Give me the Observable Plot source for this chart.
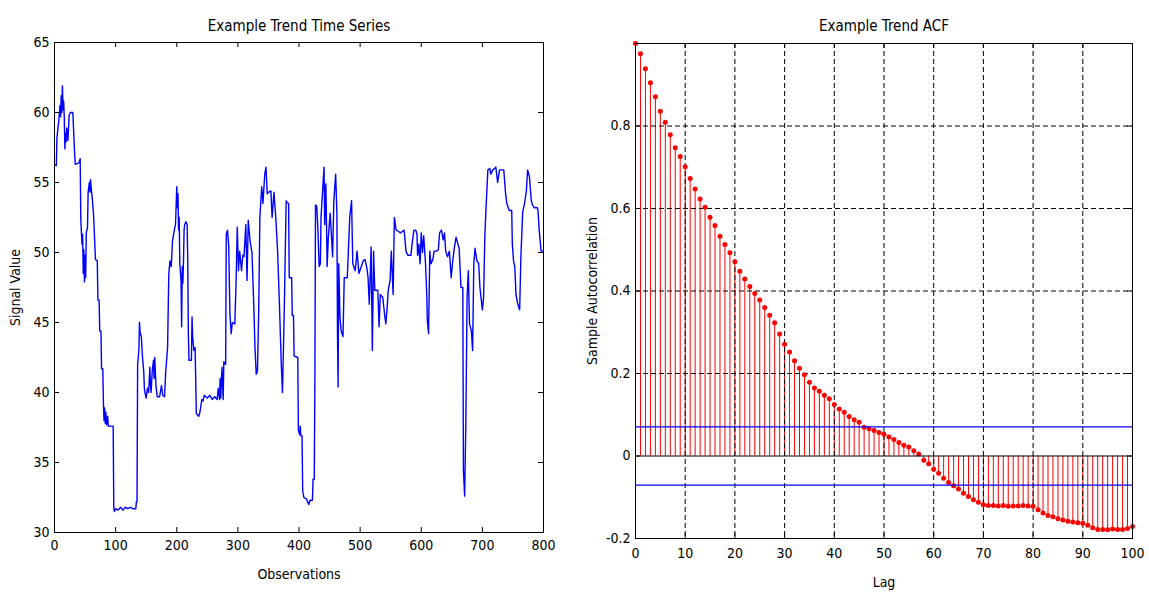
<!DOCTYPE html>
<html><head><meta charset="utf-8">
<script src="https://cdn.jsdelivr.net/npm/d3@7"></script>
<script src="https://cdn.jsdelivr.net/npm/@observablehq/plot@0.6"></script>
<style>
html,body{margin:0;padding:0;background:#fff;}
#wrap{position:relative;width:1149px;height:592px;overflow:hidden;background:#fff;}
#left,#right{position:absolute;top:0;}
#left{left:0;} #right{left:575px;}
svg{font-family:"Liberation Sans Narrow","DejaVu Sans Condensed","Liberation Sans",Arial,sans-serif;}
</style></head><body>
<div id="wrap"><div id="left"></div><div id="right"></div></div>
<script>
const tsObs = [0,3,4,7,9,10,11,12,13,14,15,16,17,18,19,20,22,24,26,30,31,33,34,40,42,43,45,46,47,48,49,50,51,52,54,55,57,58,59,60,62,64,67,70,71,73,74,76,77,79,80,81,82,83,84,85,87,88,96,97,98,100,104,108,112,116,120,124,128,133,134,135,136,138,139,140,142,144,146,147,148,150,152,154,156,157,158,160,162,163,164,166,168,172,175,177,180,182,185,187,189,191,193,196,198,200,201,202,203,204,205,207,208,209,210,211,212,213,215,217,218,219,220,224,225,226,228,230,231,232,236,238,241,243,245,250,254,258,262,266,268,270,271,272,274,276,277,280,281,283,285,287,289,291,295,297,299,301,303,306,308,310,313,315,317,320,323,326,328,330,332,334,336,339,341,344,346,348,350,354,356,359,362,365,368,371,373,376,379,380,383,384,388,389,391,392,398,399,401,402,403,405,406,408,412,414,416,418,422,423,425,426,427,429,431,433,435,436,439,441,442,444,446,448,451,455,457,460,462,463,464,465,467,469,472,474,479,483,486,488,492,495,498,502,505,508,511,513,515,518,520,522,524,529,531,533,537,540,542,544,546,549,551,554,556,559,563,566,569,572,575,578,583,585,588,591,593,594,596,598,600,602,604,607,609,610,612,614,616,619,621,625,628,630,633,636,638,640,643,646,649,651,654,657,660,662,665,668,669,671,673,675,677,679,682,684,686,688,691,694,696,700,702,704,706,709,712,714,717,720,722,725,728,731,735,738,740,744,748,749,751,753,755,758,761,763,766,769,772,774,777,780,782,785,790,791,793,796,800];
const tsValue = [56.3,56.2,58.2,59.4,60.5,59.7,61.2,60.0,61.9,60.2,60.8,59.6,57.4,58.5,57.9,58.9,58.0,59.8,60.0,60.0,59.0,57.0,56.3,56.4,56.7,52.4,50.6,51.3,48.5,50.2,47.9,49.8,48.2,51.4,51.8,54.3,55.0,54.3,55.2,54.6,53.8,52.6,49.5,49.4,46.6,46.6,44.4,44.4,41.7,41.7,39.3,38.0,38.9,37.8,38.6,37.7,38.3,37.6,37.6,31.8,31.5,31.7,31.6,31.8,31.6,31.8,31.7,31.8,31.7,31.7,32.2,32.2,42.0,43.0,45.0,44.3,44.0,42.5,41.5,40.3,40.0,39.6,40.3,40.0,41.8,40.5,40.0,41.6,42.3,41.0,42.5,40.5,39.7,39.7,40.5,39.8,39.7,41.5,43.2,48.5,49.4,49.0,50.8,51.6,52.0,54.7,53.2,54.2,51.6,52.5,49.2,48.0,44.7,49.0,47.8,49.3,51.6,52.0,52.2,52.0,49.4,44.2,42.3,42.3,45.4,44.0,43.0,43.2,41.0,38.5,38.3,38.6,39.5,39.4,39.8,39.6,39.8,39.5,39.7,39.5,40.3,39.5,41.0,39.6,41.8,39.5,42.2,42.0,51.3,51.6,50.5,45.6,44.2,45.0,44.9,47.8,51.8,48.7,50.1,48.7,49.8,49.7,52.0,48.0,52.3,50.8,50.0,46.3,43.2,41.3,41.5,45.6,52.5,54.7,53.5,55.6,56.1,54.2,54.3,54.4,52.5,54.3,52.5,50.1,46.3,42.0,40.0,46.1,53.7,53.6,53.5,48.2,48.2,45.5,45.5,42.6,42.5,37.3,37.0,37.6,36.9,36.9,33.0,32.5,32.4,32.2,32.0,32.3,32.3,33.8,33.8,40.9,53.4,53.3,51.6,49.0,49.2,52.5,54.7,56.1,52.0,54.9,49.0,51.1,52.8,49.7,53.7,55.6,52.8,44.0,40.4,49.2,45.4,44.4,44.0,48.2,48.2,52.5,53.7,49.2,48.7,50.1,48.5,49.0,49.4,49.5,48.9,48.2,46.3,50.4,43.0,50.1,47.3,47.3,44.7,47.0,46.8,45.6,44.9,45.9,47.3,48.0,50.1,47.0,52.5,51.6,51.5,51.4,51.5,51.6,50.1,49.8,49.8,50.6,51.6,51.6,51.3,49.8,50.6,49.2,51.4,50.0,51.2,49.2,47.0,45.1,44.2,50.1,49.2,49.5,50.1,50.1,50.2,51.4,51.6,50.9,51.4,50.1,49.7,50.1,48.2,49.2,50.3,51.1,50.6,50.3,47.5,47.5,34.4,32.6,38.0,46.8,48.7,44.9,44.4,43.0,49.2,50.3,49.4,49.2,47.5,45.9,46.8,51.1,53.2,55.9,56.0,55.6,55.9,56.0,56.1,55.0,55.9,55.9,55.9,54.2,53.5,53.0,53.0,50.6,49.4,49.0,47.0,46.3,45.9,49.7,52.9,53.5,54.4,55.9,55.4,53.7,53.4,53.2,53.2,53.0,51.6,50.1,50.1];
const tsXTicks = [0,100,200,300,400,500,600,700,800];
const tsYTicks = [30,35,40,45,50,55,60,65];

// ---- Sample autocorrelation, lags 0..100 ----
const acfValues = [1.0,0.975,0.939,0.905,0.871,0.836,0.809,0.779,0.747,0.726,
 0.701,0.673,0.647,0.623,0.603,0.579,0.559,0.533,0.513,0.493,
 0.471,0.448,0.429,0.411,0.394,0.378,0.360,0.341,0.323,0.296,
 0.271,0.252,0.231,0.213,0.197,0.179,0.165,0.157,0.147,0.139,
 0.125,0.114,0.106,0.096,0.088,0.082,0.070,0.066,0.062,0.057,
 0.053,0.046,0.040,0.033,0.026,0.022,0.013,0.005,-0.010,-0.019,
 -0.032,-0.042,-0.054,-0.064,-0.072,-0.080,-0.090,-0.098,-0.106,-0.112,
 -0.118,-0.120,-0.120,-0.121,-0.120,-0.122,-0.121,-0.121,-0.120,-0.121,
 -0.122,-0.130,-0.138,-0.144,-0.147,-0.152,-0.155,-0.158,-0.160,-0.162,
 -0.163,-0.168,-0.174,-0.178,-0.178,-0.179,-0.177,-0.178,-0.178,-0.176,
 -0.171];
const acfBound = 0.0707;
const acfXTicks = [0,10,20,30,40,50,60,70,80,90,100];
const acfYTicks = [-0.2,0,0.2,0.4,0.6,0.8];
const acfGridX = [10,20,30,40,50,60,70,80,90];
const acfGridY = [0.2,0.4,0.6,0.8];

const FONT = '"Liberation Sans Narrow","DejaVu Sans Condensed","Liberation Sans",Arial,sans-serif';
const H = 592;

// ---------- Left panel ----------
const W1 = 575, ml1 = 54, mr1 = 32, mt1 = 42, mb1 = 60;
const iw1 = W1 - ml1 - mr1, ih1 = H - mt1 - mb1;
const tsData = tsObs.map((o, i) => ({obs: o, value: tsValue[i]}));
const leftChart = Plot.plot({
  width: W1, height: H,
  marginLeft: ml1, marginRight: mr1, marginTop: mt1, marginBottom: mb1,
  style: {fontFamily: FONT, fontSize: "14px", color: "#000", background: "#fff", overflow: "visible"},
  x: {domain: [0, 800]},
  y: {domain: [30, 65]},
  marks: [
    Plot.line(tsData, {x: "obs", y: "value", stroke: "#0000ff", strokeWidth: 1.4}),
    Plot.frame({stroke: "#000"}),
    Plot.tickX(tsXTicks, {x: d => d, insetTop: ih1 - 5, stroke: "#000"}),
    Plot.tickX(tsXTicks, {x: d => d, insetBottom: ih1 - 5, stroke: "#000"}),
    Plot.tickY(tsYTicks, {y: d => d, insetLeft: iw1 - 5, stroke: "#000"}),
    Plot.tickY(tsYTicks, {y: d => d, insetRight: iw1 - 5, stroke: "#000"}),
    Plot.axisX(tsXTicks, {tickSize: 0, tickPadding: 8, tickFormat: d => String(d),
      label: "Observations", labelAnchor: "center", labelArrow: "none", labelOffset: 46}),
    Plot.axisY(tsYTicks, {tickSize: 0, tickPadding: 5, tickFormat: d => String(d),
      label: "Signal Value", labelAnchor: "center", labelArrow: "none", labelOffset: 44}),
    Plot.text(["Example Trend Time Series"], {frameAnchor: "top", dy: -22, text: d => d, fontSize: 15})
  ]
});
document.getElementById("left").appendChild(leftChart);

// ---------- Right panel ----------
const W2 = 574, ml2 = 60, mr2 = 17, mt2 = 43, mb2 = 54;
const iw2 = W2 - ml2 - mr2, ih2 = H - mt2 - mb2;
const acfData = acfValues.map((v, i) => ({lag: i, value: v}));
const rightChart = Plot.plot({
  width: W2, height: H,
  marginLeft: ml2, marginRight: mr2, marginTop: mt2, marginBottom: mb2,
  style: {fontFamily: FONT, fontSize: "14px", color: "#000", background: "#fff", overflow: "visible"},
  x: {domain: [0, 100]},
  y: {domain: [-0.2, 1]},
  marks: [
    Plot.ruleX(acfData, {x: "lag", y1: 0, y2: "value", stroke: "#ff0000", strokeWidth: 1}),
    Plot.ruleX(acfGridX, {x: d => d, stroke: "#000", strokeDasharray: "5,3"}),
    Plot.ruleY(acfGridY, {y: d => d, stroke: "#000", strokeDasharray: "5,3"}),
    Plot.dot(acfData, {x: "lag", y: "value", r: 2.5, fill: "#ff0000"}),
    Plot.ruleY([acfBound, -acfBound], {y: d => d, stroke: "#0000ff", strokeWidth: 1.3}),
    Plot.ruleY([0], {y: d => d, stroke: "#000"}),
    Plot.frame({stroke: "#000"}),
    Plot.tickX(acfXTicks, {x: d => d, insetTop: ih2 - 5, stroke: "#000"}),
    Plot.tickX(acfXTicks, {x: d => d, insetBottom: ih2 - 5, stroke: "#000"}),
    Plot.tickY(acfYTicks, {y: d => d, insetLeft: iw2 - 5, stroke: "#000"}),
    Plot.tickY(acfYTicks, {y: d => d, insetRight: iw2 - 5, stroke: "#000"}),
    Plot.axisX(acfXTicks, {tickSize: 0, tickPadding: 10, tickFormat: d => String(d),
      label: "Lag", labelAnchor: "center", labelArrow: "none", labelOffset: 48}),
    Plot.axisY(acfYTicks, {tickSize: 0, tickPadding: 5, tickFormat: d => String(d),
      label: "Sample Autocorrelation", labelAnchor: "center", labelArrow: "none", labelOffset: 48}),
    Plot.text(["Example Trend ACF"], {frameAnchor: "top", dy: -23, text: d => d, fontSize: 15})
  ]
});
document.getElementById("right").appendChild(rightChart);
</script>
</body></html>
